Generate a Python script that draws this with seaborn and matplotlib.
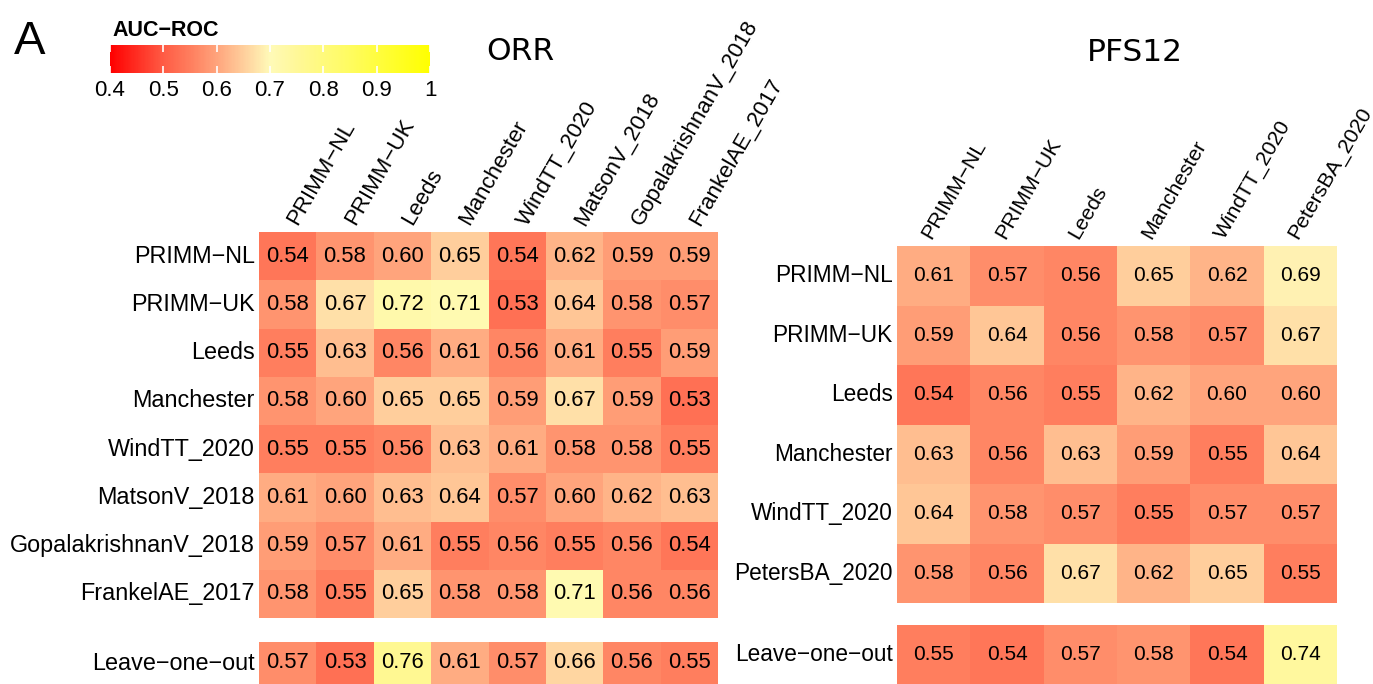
import matplotlib
matplotlib.use("Agg")
import matplotlib.pyplot as plt
import pandas as pd
import seaborn as sns
from matplotlib.cm import ScalarMappable
from matplotlib.colors import LinearSegmentedColormap, Normalize
from matplotlib.transforms import ScaledTranslation

plt.rcParams['font.family'] = ['Liberation Sans', 'DejaVu Sans']

# ---- data ----
orr_train = ['PRIMM−NL', 'PRIMM−UK', 'Leeds', 'Manchester', 'WindTT_2020',
             'MatsonV_2018', 'GopalakrishnanV_2018', 'FrankelAE_2017']
orr_test = ['PRIMM−NL', 'PRIMM−UK', 'Leeds', 'Manchester', 'WindTT_2020',
            'MatsonV_2018', 'GopalakrishnanV_2018', 'FrankelAE_2017']
orr_auc = [
    [0.54, 0.58, 0.60, 0.65, 0.54, 0.62, 0.59, 0.59],
    [0.58, 0.67, 0.72, 0.71, 0.53, 0.64, 0.58, 0.57],
    [0.55, 0.63, 0.56, 0.61, 0.56, 0.61, 0.55, 0.59],
    [0.58, 0.60, 0.65, 0.65, 0.59, 0.67, 0.59, 0.53],
    [0.55, 0.55, 0.56, 0.63, 0.61, 0.58, 0.58, 0.55],
    [0.61, 0.60, 0.63, 0.64, 0.57, 0.60, 0.62, 0.63],
    [0.59, 0.57, 0.61, 0.55, 0.56, 0.55, 0.56, 0.54],
    [0.58, 0.55, 0.65, 0.58, 0.58, 0.71, 0.56, 0.56],
]
orr_loo = [0.57, 0.53, 0.76, 0.61, 0.57, 0.66, 0.56, 0.55]

pfs_train = ['PRIMM−NL', 'PRIMM−UK', 'Leeds', 'Manchester', 'WindTT_2020', 'PetersBA_2020']
pfs_test = ['PRIMM−NL', 'PRIMM−UK', 'Leeds', 'Manchester', 'WindTT_2020', 'PetersBA_2020']
pfs_auc = [
    [0.61, 0.57, 0.56, 0.65, 0.62, 0.69],
    [0.59, 0.64, 0.56, 0.58, 0.57, 0.67],
    [0.54, 0.56, 0.55, 0.62, 0.60, 0.60],
    [0.63, 0.56, 0.63, 0.59, 0.55, 0.64],
    [0.64, 0.58, 0.57, 0.55, 0.57, 0.57],
    [0.58, 0.56, 0.67, 0.62, 0.65, 0.55],
]
pfs_loo = [0.55, 0.54, 0.57, 0.58, 0.54, 0.74]

loo_label = ['Leave−one−out']
cbar_ticks = [0.4, 0.5, 0.6, 0.7, 0.8, 0.9, 1.0]
cbar_labels = ['0.4', '0.5', '0.6', '0.7', '0.8', '0.9', '1']

# red -> pale cream -> yellow
vmin, vmax = 0.4, 1.0
stops = [(0.40, '#FF0000'), (0.50, '#FF5C45'), (0.55, '#FF7E5E'), (0.60, '#FFA47C'),
         (0.65, '#FFCE9C'), (0.70, '#FFFAB8'), (0.75, '#FFF898'), (0.85, '#FFFC60'),
         (1.00, '#FFFF00')]
auc_cmap = LinearSegmentedColormap.from_list(
    'auc', [((v - vmin) / (vmax - vmin), c) for v, c in stops])

W, H = 1373, 684
fig = plt.figure(figsize=(W / 100, H / 100), dpi=100)


def px_box(l, t, r, b):
    return [l / W, 1 - b / H, (r - l) / W, (b - t) / H]


def draw_heat(ax, df, annot_size, label_size, show_cols, col_size=16, col_dx=0):
    sns.heatmap(df, ax=ax, cmap=auc_cmap, vmin=vmin, vmax=vmax, cbar=False,
                annot=True, fmt='.2f', xticklabels=True, yticklabels=True,
                annot_kws=dict(fontsize=annot_size, color='black'))
    ax.set_xlabel('')
    ax.set_ylabel('')
    ax.tick_params(length=0)
    ax.tick_params(axis='y', pad=3)
    ax.set_yticklabels(df.index, rotation=0, fontsize=label_size)
    if show_cols:
        ax.xaxis.tick_top()
        ax.tick_params(axis='x', pad=6)
        labels = ax.set_xticklabels(df.columns, rotation=60, ha='left', va='center',
                                    rotation_mode='anchor', fontsize=col_size)
        shift = ScaledTranslation(col_dx / 100, 0, fig.dpi_scale_trans)
        for lab in labels:
            lab.set_transform(lab.get_transform() + shift)
    else:
        ax.set_xticks([])


# ORR
ax1 = fig.add_axes(px_box(259, 232, 718, 618))
draw_heat(ax1, pd.DataFrame(orr_auc, index=orr_train, columns=orr_test),
          15.8, 16.8, True, col_size=16, col_dx=5)
ax1b = fig.add_axes(px_box(259, 642, 718, 684))
draw_heat(ax1b, pd.DataFrame([orr_loo], index=loo_label, columns=orr_test), 15.8, 16.8, False)

# PFS12
ax2 = fig.add_axes(px_box(897, 246, 1337, 603))
draw_heat(ax2, pd.DataFrame(pfs_auc, index=pfs_train, columns=pfs_test),
          15, 16.3, True, col_size=15.2, col_dx=-7)
ax2b = fig.add_axes(px_box(897, 625, 1337, 684))
draw_heat(ax2b, pd.DataFrame([pfs_loo], index=loo_label, columns=pfs_test), 15, 16.3, False)

# colour key
cax = fig.add_axes(px_box(110, 45, 430, 73))
cb = fig.colorbar(ScalarMappable(norm=Normalize(vmin, vmax), cmap=auc_cmap),
                  cax=cax, orientation='horizontal', ticks=cbar_ticks)
cb.set_ticklabels(cbar_labels)
cb.outline.set_visible(False)
cax.tick_params(axis='x', direction='in', color='white', length=5, width=1.2,
                top=True, bottom=True, labelsize=16, pad=5)

fig.text(112 / W, 1 - 36 / H, 'AUC−ROC', fontsize=15.5, fontweight='bold', va='baseline')
fig.text(14 / W, 1 - 54 / H, 'A', fontsize=34, va='baseline')
fig.text(520 / W, 1 - 60 / H, 'ORR', family='DejaVu Sans', fontsize=22.5,
         ha='center', va='baseline')
fig.text(1135 / W, 1 - 61 / H, 'PFS12', family='DejaVu Sans', fontsize=22.5,
         ha='center', va='baseline')

fig.savefig('out.png', dpi=100)
